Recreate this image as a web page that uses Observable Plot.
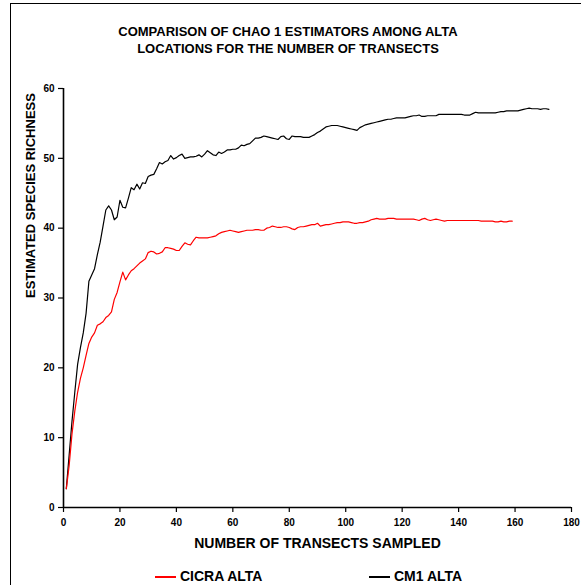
<!DOCTYPE html>
<html>
<head>
<meta charset="utf-8">
<script src="https://cdn.jsdelivr.net/npm/d3@7"></script>
<script src="https://cdn.jsdelivr.net/npm/@observablehq/plot@0.6"></script>
<style>
  body { margin: 0; background: #fff; }
  #chart { position: relative; width: 581px; height: 585px; overflow: hidden; background: #fff;
           font-family: Arial, "Liberation Sans", sans-serif; color: #000; }
  .frame { position: absolute; left: 10px; top: 3px; width: 700px; height: 700px;
           border-left: 1px solid #000; border-top: 1px solid #000; box-sizing: border-box; }
  .title { position: relative; height: 70px; box-sizing: border-box; padding-top: 23px;
           width: 576px; text-align: center; font-weight: bold; font-size: 13px; line-height: 17px; }
  #plot { position: relative; height: 490px; }
  .legend { position: relative; height: 25px; }
  .legend .sw { position: absolute; top: 16px; height: 2px; }
  .legend .lb { position: absolute; top: 8px; font-weight: bold; font-size: 14px; line-height: 16px; white-space: nowrap; }
</style>
</head>
<body>
<div id="chart">
  <div class="frame"></div>
  <div class="title">COMPARISON OF CHAO 1 ESTIMATORS AMONG ALTA<br>LOCATIONS FOR THE NUMBER OF TRANSECTS</div>
  <div id="plot"></div>
  <div class="legend">
    <div class="sw" style="left:155px;width:21px;background:#ff0000"></div>
    <div class="lb" style="left:180px">CICRA ALTA</div>
    <div class="sw" style="left:369px;width:21px;background:#000"></div>
    <div class="lb" style="left:394px">CM1 ALTA</div>
  </div>
</div>
<script>
// Chao 1 estimates, one value per transect count starting at 1
const cicraAlta = [
  2.7, 6.0, 10.5, 13.8, 16.5, 18.5, 20.0, 21.8, 23.5, 24.4,
  25.0, 26.1, 26.3, 26.6, 27.2, 27.5, 28.0, 29.8, 30.8, 32.3,
  33.7, 32.6, 33.3, 33.9, 34.2, 34.6, 35.0, 35.3, 35.6, 36.5,
  36.7, 36.6, 36.3, 36.4, 36.6, 37.2, 37.2, 37.1, 37.0, 36.8,
  36.8, 37.4, 37.9, 37.7, 37.6, 38.2, 38.7, 38.6, 38.6, 38.6,
  38.6, 38.7, 38.8, 38.9, 39.2, 39.4, 39.5, 39.6, 39.7, 39.6,
  39.5, 39.4, 39.5, 39.6, 39.7, 39.7, 39.7, 39.8, 39.8, 39.7,
  39.7, 40.0, 40.1, 40.3, 40.2, 40.1, 40.1, 40.2, 40.2, 40.1,
  39.9, 39.8, 40.1, 40.2, 40.2, 40.3, 40.4, 40.5, 40.5, 40.7,
  40.3, 40.4, 40.5, 40.5, 40.6, 40.7, 40.8, 40.8, 40.9, 40.9,
  40.9, 40.8, 40.7, 40.7, 40.8, 40.8, 40.9, 41.0, 41.2, 41.3,
  41.4, 41.3, 41.3, 41.3, 41.4, 41.4, 41.4, 41.3, 41.3, 41.3,
  41.3, 41.3, 41.3, 41.3, 41.2, 41.1, 41.3, 41.4, 41.2, 41.1,
  41.2, 41.3, 41.2, 41.1, 41.0, 41.1, 41.1, 41.1, 41.1, 41.1,
  41.1, 41.1, 41.1, 41.1, 41.1, 41.1, 41.1, 41.0, 41.0, 41.0,
  41.0, 41.0, 40.9, 40.9, 41.0, 40.9, 40.9, 41.0, 41.0
];
const cm1Alta = [
  2.7, 7.5, 12.3, 16.5, 20.5, 22.9, 25.0, 27.8, 32.4, 33.3,
  34.2, 36.2, 38.0, 40.3, 42.6, 43.2, 42.6, 41.2, 41.6, 44.0,
  43.0, 42.9, 44.3, 45.8, 45.5, 46.3, 45.6, 46.5, 46.4, 47.4,
  47.6, 47.7, 48.5, 49.4, 49.2, 49.5, 49.7, 50.4, 49.9, 50.1,
  50.4, 50.6, 50.0, 50.1, 50.2, 50.2, 50.3, 50.5, 50.2, 50.6,
  51.1, 50.8, 50.5, 50.4, 50.9, 50.7, 50.9, 51.2, 51.2, 51.3,
  51.3, 51.5, 51.9, 51.8, 52.0, 52.1, 52.5, 52.9, 52.9, 53.0,
  53.2, 53.1, 53.0, 52.9, 52.8, 52.7, 53.1, 53.2, 52.8, 52.7,
  53.2, 53.1, 53.1, 53.1, 53.0, 53.0, 53.0, 53.2, 53.4, 53.7,
  53.9, 54.2, 54.5, 54.6, 54.7, 54.7, 54.7, 54.6, 54.5, 54.4,
  54.3, 54.2, 54.1, 54.0, 54.4, 54.6, 54.8, 54.9, 55.0, 55.1,
  55.2, 55.3, 55.4, 55.5, 55.6, 55.6, 55.7, 55.8, 55.8, 55.8,
  55.8, 55.9, 56.0, 56.1, 56.1, 56.2, 56.0, 56.0, 56.1, 56.1,
  56.1, 56.1, 56.3, 56.3, 56.3, 56.3, 56.3, 56.3, 56.3, 56.3,
  56.3, 56.2, 56.2, 56.2, 56.4, 56.6, 56.5, 56.5, 56.5, 56.5,
  56.5, 56.5, 56.5, 56.6, 56.7, 56.7, 56.8, 56.8, 56.8, 56.8,
  56.8, 56.9, 57.0, 57.1, 57.2, 57.1, 57.1, 57.1, 57.0, 57.1,
  57.1, 57.0
];
const xTicks = [0, 20, 40, 60, 80, 100, 120, 140, 160, 180];
const yTicks = [0, 10, 20, 30, 40, 50, 60];
const xTitle = "NUMBER OF TRANSECTS SAMPLED";
const yTitle = "ESTIMATED SPECIES RICHNESS";

const cicraRows = cicraAlta.map((v, i) => ({x: i + 1, y: v}));
const cm1Rows = cm1Alta.map((v, i) => ({x: i + 1, y: v}));

const plot = Plot.plot({
  width: 581,
  height: 490,
  marginTop: 18,
  marginBottom: 53,
  marginLeft: 63,
  marginRight: 10,
  style: {fontFamily: "Arial, 'Liberation Sans', sans-serif", background: "transparent", color: "#000"},
  x: {domain: [0, 180]},
  y: {domain: [0, 60]},
  marks: [
    Plot.line(cm1Rows, {x: "x", y: "y", stroke: "#000", strokeWidth: 1.2}),
    Plot.line(cicraRows, {x: "x", y: "y", stroke: "#ff0000", strokeWidth: 1.2}),
    Plot.ruleX([0], {stroke: "#000", strokeWidth: 1.6}),
    Plot.ruleY([0], {stroke: "#000", strokeWidth: 1.6}),
    Plot.axisX({ticks: xTicks, tickSize: 5, tickPadding: 6, tickFormat: d3.format("d"),
                fontSize: 10, fontWeight: "bold", label: null, strokeWidth: 1.2}),
    Plot.axisY({ticks: yTicks, tickSize: 5, tickPadding: 4, tickFormat: d3.format("d"),
                fontSize: 10, fontWeight: "bold", label: null, strokeWidth: 1.2}),
    Plot.text([xTitle], {text: d => d, frameAnchor: "bottom", dy: 40, fontSize: 14, fontWeight: "bold"}),
    Plot.text([yTitle], {text: d => d, frameAnchor: "left", dx: -33, rotate: -90, fontSize: 13, fontWeight: "bold"})
  ]
});
document.getElementById("plot").appendChild(plot);
</script>
</body>
</html>
